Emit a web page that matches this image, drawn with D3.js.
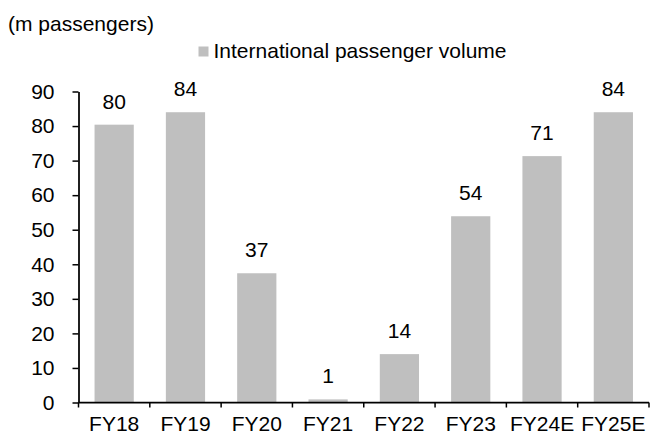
<!DOCTYPE html>
<html>
<head>
<meta charset="utf-8">
<script src="https://cdn.jsdelivr.net/npm/d3@7"></script>
<style>
  html, body { margin: 0; padding: 0; background: #fff; }
  svg { display: block; font-family: "Liberation Sans", Arial, sans-serif; }
</style>
</head>
<body>
<svg id="chart" width="655" height="436"></svg>
<script>
// Fiscal years and international passenger volume (m passengers)
const categories = ["FY18", "FY19", "FY20", "FY21", "FY22", "FY23", "FY24E", "FY25E"];
const passengers = [80.4, 84.0, 37.4, 0.9, 14.0, 53.9, 71.3, 84.0];
const yTicks = [0, 10, 20, 30, 40, 50, 60, 70, 80, 90];
const seriesName = "International passenger volume";
const unitLabel = "(m passengers)";

const plot = { left: 78.5, right: 649, top: 91.5, bottom: 402.5 };
const barColor = "#bfbfbf";
const fontSize = 21;

const svg = d3.select("#chart");

const x = d3.scaleBand()
  .domain(categories)
  .range([plot.left, plot.right])
  .paddingInner(0.45)
  .paddingOuter(0.225);

const y = d3.scaleLinear()
  .domain([0, 90])
  .range([plot.bottom, plot.top]);

// Unit label
svg.append("text")
  .attr("x", 8)
  .attr("y", 30.5)
  .attr("font-size", fontSize)
  .attr("fill", "#000")
  .text(unitLabel);

// Legend
const legend = svg.append("g").attr("transform", "translate(198.5,46.5)");
legend.append("rect")
  .attr("width", 10).attr("height", 10)
  .attr("fill", barColor);
legend.append("text")
  .attr("x", 15).attr("y", 11)
  .attr("font-size", fontSize)
  .attr("fill", "#000")
  .text(seriesName);

// Bars
svg.append("g")
  .selectAll("rect")
  .data(categories)
  .join("rect")
  .attr("x", (d) => x(d))
  .attr("width", x.bandwidth())
  .attr("y", (d, i) => y(passengers[i]))
  .attr("height", (d, i) => y(0) - y(passengers[i]))
  .attr("fill", barColor);

// Value labels
svg.append("g")
  .selectAll("text")
  .data(categories)
  .join("text")
  .attr("x", (d) => x(d) + x.bandwidth() / 2)
  .attr("y", (d, i) => y(passengers[i]) - 16)
  .attr("text-anchor", "middle")
  .attr("font-size", fontSize)
  .attr("fill", "#000")
  .text((d, i) => d3.format(".0f")(passengers[i]));

// Y axis
const yAxis = svg.append("g")
  .attr("transform", `translate(${plot.left},0)`)
  .call(d3.axisLeft(y).tickValues(yTicks).tickSize(6).tickPadding(18).tickSizeOuter(0));
yAxis.select(".domain").attr("stroke", "#000").attr("stroke-width", 1.75);
yAxis.selectAll(".tick line").attr("stroke", "#000").attr("stroke-width", 1.5);
yAxis.selectAll(".tick text")
  .attr("font-size", fontSize)
  .attr("font-family", "Liberation Sans, Arial, sans-serif")
  .attr("fill", "#000");

// X axis: labels at band centres, tick marks on category boundaries
const xAxis = svg.append("g")
  .attr("transform", `translate(0,${plot.bottom})`)
  .call(d3.axisBottom(x).tickSize(0).tickPadding(14).tickSizeOuter(0));
xAxis.select(".domain").remove();
xAxis.selectAll(".tick text")
  .attr("font-size", fontSize)
  .attr("font-family", "Liberation Sans, Arial, sans-serif")
  .attr("fill", "#000");

const step = x.step();
const boundaries = d3.range(categories.length + 1).map((i) => plot.left + i * step);
svg.append("line")
  .attr("x1", plot.left).attr("x2", plot.right)
  .attr("y1", plot.bottom).attr("y2", plot.bottom)
  .attr("stroke", "#000").attr("stroke-width", 1.75);
svg.append("g")
  .selectAll("line")
  .data(boundaries)
  .join("line")
  .attr("x1", (d) => d).attr("x2", (d) => d)
  .attr("y1", plot.bottom).attr("y2", plot.bottom + 5)
  .attr("stroke", "#000").attr("stroke-width", 1.5);
</script>
</body>
</html>
